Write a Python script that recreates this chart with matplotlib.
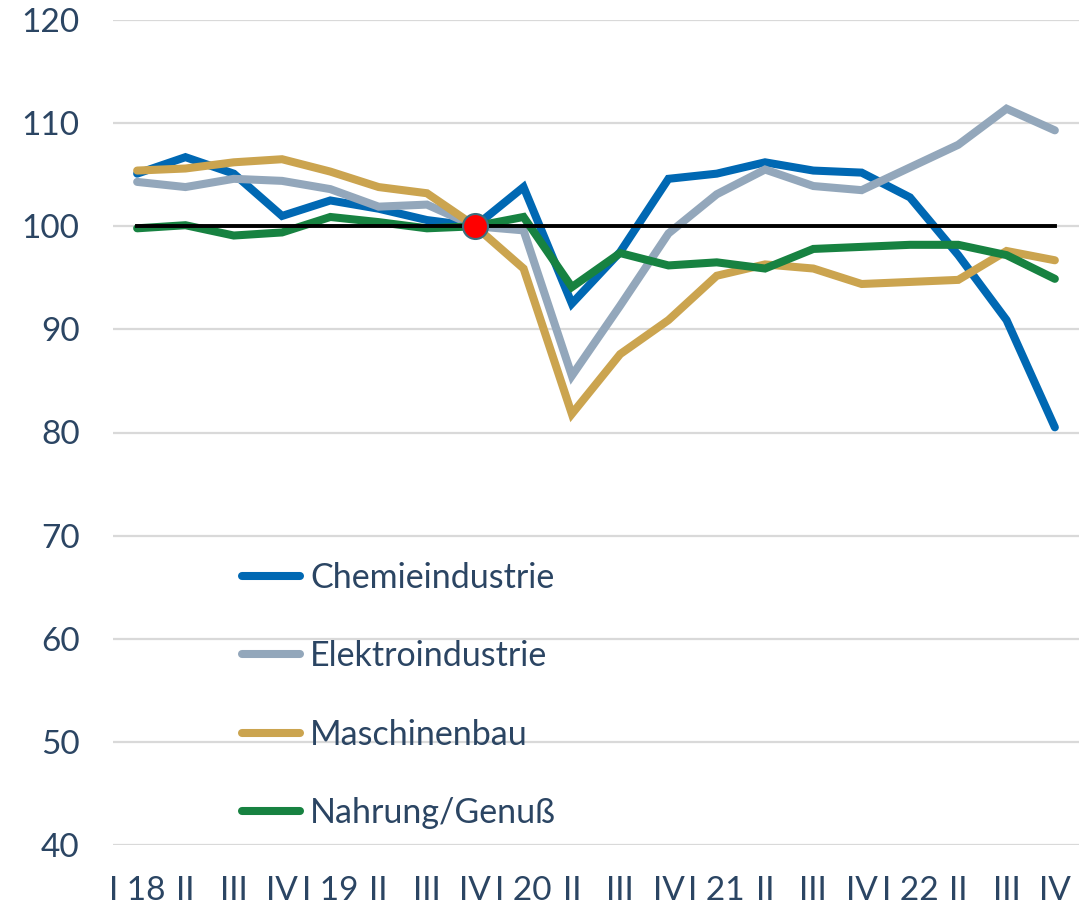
import matplotlib
matplotlib.use("Agg")
import matplotlib.pyplot as plt
import numpy as np

plt.rcParams['font.family'] = ['Lato', 'DejaVu Sans']

quarters = ["I 18", "II", "III", "IV", "I 19", "II", "III", "IV", "I 20", "II",
            "III", "IV", "I 21", "II", "III", "IV", "I 22", "II", "III", "IV"]

chemie = [105.1, 106.7, 105.1, 101.0, 102.5, 101.7, 100.6, 100.0, 103.8, 92.5,
          97.5, 104.6, 105.1, 106.2, 105.4, 105.2, 102.8, 97.2, 90.9, 80.5]
elektro = [104.3, 103.8, 104.6, 104.4, 103.6, 101.9, 102.1, 100.0, 99.6, 85.5,
           92.3, 99.3, 103.1, 105.5, 103.9, 103.5, 105.7, 107.9, 111.4, 109.3]
maschinen = [105.4, 105.6, 106.2, 106.5, 105.3, 103.8, 103.2, 100.0, 95.9, 81.8,
             87.6, 90.9, 95.2, 96.3, 95.9, 94.4, 94.6, 94.8, 97.6, 96.7]
nahrung = [99.8, 100.1, 99.1, 99.4, 100.9, 100.4, 99.8, 100.0, 100.9, 94.1,
           97.4, 96.2, 96.5, 95.9, 97.8, 98.0, 98.2, 98.2, 97.2, 94.9]
basis = [100.0] * 20
base_idx = 7  # IV 19 = 100

labels = ["Chemieindustrie", "Elektroindustrie", "Maschinenbau", "Nahrung/Genuß"]
colors = ["#0068B3", "#93A7BB", "#CBA44F", "#178241"]
textcol = "#2B4563"

fig = plt.figure(figsize=(10.91, 9.11), dpi=100)
ax = fig.add_axes([113/1091, 1-845/911, (1079-113)/1091, (845-20)/911])

x = np.arange(len(quarters))
ax.plot(x, basis, color="black", lw=2.8, zorder=3)
for ys, lab, c in zip([chemie, elektro, maschinen, nahrung], labels, colors):
    ax.plot(x, ys, color=c, lw=5.8, label=lab, zorder=2,
            solid_joinstyle="miter", solid_capstyle="round")
ax.plot(x[base_idx], basis[base_idx], "o", ms=18, mfc="#FF0000",
        mec="#3C6E7E", mew=1.5, zorder=5)

ax.set_xlim(-0.5, len(quarters) - 0.5)
ax.set_ylim(40, 120)
ax.set_yticks(range(40, 121, 10))
ax.set_xticks(x)
ax.set_xticklabels(quarters)
ax.grid(axis="y", color="#D9D9D9", lw=1.6, zorder=0)
ax.set_axisbelow(True)
for s in ax.spines.values():
    s.set_visible(False)
ax.tick_params(length=0, labelsize=24, colors=textcol)
ax.tick_params(axis="y", pad=24)
ax.tick_params(axis="x", pad=22)

leg = ax.legend(loc="upper left", bbox_to_anchor=(242/1091, 1-562/911),
                bbox_transform=fig.transFigure, frameon=False, fontsize=24.5,
                labelspacing=1.36, handlelength=1.7, handletextpad=0.3,
                borderpad=0, borderaxespad=0)
for t in leg.get_texts():
    t.set_color(textcol)

fig.savefig("out.png", dpi=100)
